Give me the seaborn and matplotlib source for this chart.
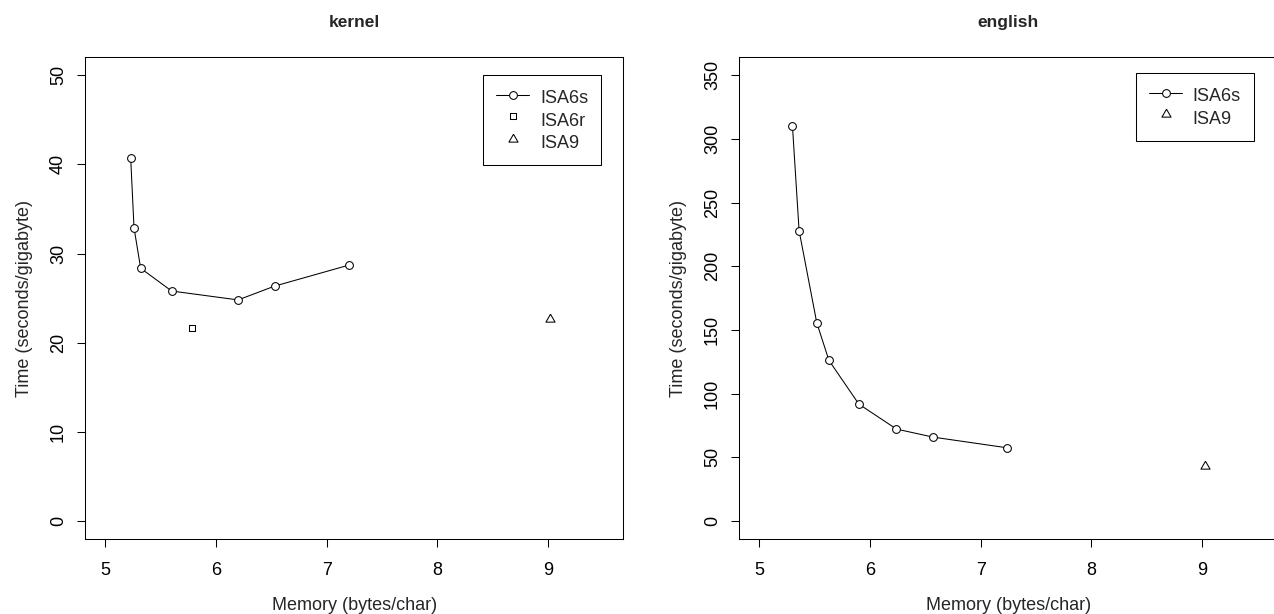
import numpy as np
import pandas as pd
import matplotlib
matplotlib.use("Agg")
import matplotlib.pyplot as plt
import seaborn as sns

# ---- data ----
kernel_isa6s_mem = [5.23, 5.26, 5.32, 5.60, 6.20, 6.53, 7.20]
kernel_isa6s_time = [40.7, 32.9, 28.35, 25.8, 24.8, 26.35, 28.7]
kernel_isa6r_mem = [5.78]
kernel_isa6r_time = [21.7]
kernel_isa9_mem = [9.02]
kernel_isa9_time = [22.7]

english_isa6s_mem = [5.30, 5.36, 5.52, 5.63, 5.90, 6.24, 6.57, 7.24]
english_isa6s_time = [310.5, 228.1, 155.6, 126.1, 91.8, 72.2, 65.9, 57.5]
english_isa9_mem = [9.03]
english_isa9_time = [43.5]

x_ticks = [5, 6, 7, 8, 9]
kernel_y_ticks = [0, 10, 20, 30, 40, 50]
english_y_ticks = [0, 50, 100, 150, 200, 250, 300, 350]

titles = ["kernel", "english"]
xlabel = "Memory (bytes/char)"
ylabel = "Time (seconds/gigabyte)"

# ---- style ----
sns.set_style("ticks")
plt.rcParams["font.family"] = ["Liberation Sans", "DejaVu Sans"]
plt.rcParams["axes.linewidth"] = 0.75
plt.rcParams["axes.edgecolor"] = "black"

W, H = 1274, 614
fig = plt.figure(figsize=(W / 100, H / 100), dpi=100)
fig.patch.set_facecolor("white")

ax_w = 538 / W
ax_h = 481.7 / H
ax_b = (H - 539) / H
ax1 = fig.add_axes([85.3 / W, ax_b, ax_w, ax_h])
ax2 = fig.add_axes([739.3 / W, ax_b, ax_w, ax_h])

tri = [(0, 1), (-0.866, -0.5), (0.866, -0.5), (0, 1)]
FS = 13
LW = 0.75

def isa6s(ax, xs, ys):
    df = pd.DataFrame({"mem": xs, "time": ys})
    sns.lineplot(data=df, x="mem", y="time", ax=ax, color="black", lw=LW,
                 marker="o", markersize=5.6, markerfacecolor="white",
                 markeredgecolor="black", markeredgewidth=LW,
                 estimator=None, sort=False, label="ISA6s")

def single(ax, xs, ys, marker, size, label):
    df = pd.DataFrame({"mem": xs, "time": ys})
    sns.scatterplot(data=df, x="mem", y="time", ax=ax, marker=marker, s=size ** 2,
                    facecolor="white", edgecolor="black", linewidth=LW, label=label,
                    zorder=3)

isa6s(ax1, kernel_isa6s_mem, kernel_isa6s_time)
single(ax1, kernel_isa6r_mem, kernel_isa6r_time, "s", 4.6, "ISA6r")
single(ax1, kernel_isa9_mem, kernel_isa9_time, tri, 7.6, "ISA9")

isa6s(ax2, english_isa6s_mem, english_isa6s_time)
single(ax2, english_isa9_mem, english_isa9_time, tri, 7.6, "ISA9")

def style(ax, yticks, ylim, title, legend_anchor):
    ax.set_xlim(4.82, 9.68)
    ax.set_ylim(*ylim)
    ax.set_xticks(x_ticks)
    ax.set_yticks(yticks)
    ax.set_xticklabels([str(v) for v in x_ticks])
    ax.set_yticklabels([str(v) for v in yticks])
    for s in ax.spines.values():
        s.set_visible(True)
        s.set_color("black")
        s.set_linewidth(LW)
    ax.tick_params(axis="both", direction="out", length=5.5, width=LW,
                   colors="black", labelsize=FS)
    ax.tick_params(axis="x", pad=10.8)
    ax.tick_params(axis="y", pad=7.6)
    for lab in ax.get_yticklabels():
        lab.set_rotation(90)
        lab.set_va("center")
    ax.set_xlabel(xlabel, fontsize=FS, labelpad=13.2)
    ax.set_ylabel(ylabel, fontsize=FS, labelpad=12.5)
    ax.set_title(title, fontsize=12.5, fontweight="bold", pad=22)
    ax.grid(False)
    leg = ax.legend(loc="upper right", bbox_to_anchor=legend_anchor,
                    bbox_transform=fig.transFigure, borderaxespad=0,
                    fontsize=FS, frameon=True, fancybox=False, framealpha=1,
                    edgecolor="black", handlelength=1.83, handletextpad=0.6,
                    handleheight=1.21, borderpad=0.72, labelspacing=0.18,
                    scatteryoffsets=[0.5], scatterpoints=1)
    leg.get_frame().set_linewidth(LW)

style(ax1, kernel_y_ticks, (-2, 52), titles[0], (601 / W, 1 - 74.7 / H))
style(ax2, english_y_ticks, (-14.1, 364.1), titles[1], (1254 / W, 1 - 72.7 / H))

fig.savefig("out.png", dpi=100, facecolor="white")
